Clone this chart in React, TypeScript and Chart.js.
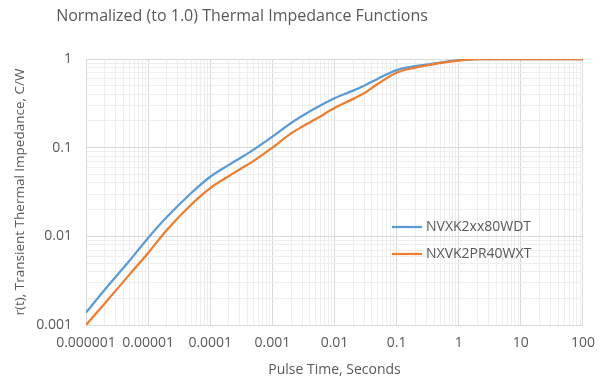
import React, { useEffect, useRef } from 'react';
import { Chart, registerables } from 'chart.js';

Chart.register(...registerables);

// Pulse duration (seconds) sampled for both devices
const PULSE_TIME = [
  1e-6, 2e-6, 5e-6, 1e-5, 2e-5, 5e-5, 1e-4, 2e-4, 3e-4, 5e-4,
  1e-3, 2e-3, 3e-3, 5e-3, 1e-2, 2e-2, 3e-2, 5e-2, 0.1, 0.2,
  0.3, 0.5, 1, 2, 3, 5, 10, 100,
];

// Normalized transient thermal impedance r(t)
const NVXK2XX80WDT = [
  0.00138, 0.0025, 0.0053, 0.0096, 0.0165, 0.031, 0.047, 0.064, 0.076, 0.095,
  0.133, 0.19, 0.228, 0.28, 0.36, 0.44, 0.5, 0.6, 0.75, 0.83,
  0.865, 0.91, 0.97, 0.995, 1, 1, 1, 1,
];
const NXVK2PR40WXT = [
  0.001, 0.00175, 0.0037, 0.0065, 0.0118, 0.023, 0.035, 0.048, 0.057, 0.071,
  0.1, 0.145, 0.172, 0.21, 0.28, 0.355, 0.41, 0.525, 0.7, 0.8,
  0.845, 0.9, 0.96, 0.995, 1, 1, 1, 1,
];

const SERIES_NAMES = ['NVXK2xx80WDT', 'NXVK2PR40WXT'];
const SERIES_COLORS = ['#5B9BD5', '#ED7D31'];

const X_TICK_VALUES = [1e-6, 1e-5, 1e-4, 1e-3, 1e-2, 1e-1, 1, 10, 100];
const X_TICK_LABELS = ['0.000001', '0.00001', '0.0001', '0.001', '0.01', '0.1', '1', '10', '100'];
const Y_TICK_VALUES = [0.001, 0.01, 0.1, 1];
const Y_TICK_LABELS = ['0.001', '0.01', '0.1', '1'];

const CHART_TITLE = 'Normalized (to 1.0) Thermal Impedance Functions';
const X_TITLE = 'Pulse Time, Seconds';
const Y_TITLE = 'r(t), Transient Thermal Impedance, C/W';

const FONT = '"Open Sans", sans-serif';
const TEXT_COLOR = '#595959';

// Major ticks at each decade plus minor ticks at 2..9 times the decade
function decadeTicks(majors: number[]) {
  const ticks: { value: number; major: boolean }[] = [];
  majors.forEach((v, i) => {
    ticks.push({ value: v, major: true });
    if (i < majors.length - 1) {
      for (let m = 2; m <= 9; m++) ticks.push({ value: v * m, major: false });
    }
  });
  return ticks;
}

function labelFor(values: number[], labels: string[], value: number) {
  const i = values.findIndex((v) => Math.abs(v - value) / v < 1e-9);
  return i >= 0 ? labels[i] : '';
}

const titlePlugin = {
  id: 'chartTitle',
  afterDraw(chart: any) {
    const { ctx } = chart;
    ctx.save();
    ctx.font = `16px ${FONT}`;
    ctx.fillStyle = TEXT_COLOR;
    ctx.textAlign = 'center';
    ctx.textBaseline = 'alphabetic';
    ctx.fillText(CHART_TITLE, 242, 21);
    ctx.restore();
  },
};

const legendPlugin = {
  id: 'insideLegend',
  afterDraw(chart: any) {
    const { ctx } = chart;
    ctx.save();
    chart.data.datasets.forEach((ds: any, i: number) => {
      const y = 227 + i * 27;
      ctx.strokeStyle = ds.borderColor;
      ctx.lineWidth = 2.25;
      ctx.beginPath();
      ctx.moveTo(392, y);
      ctx.lineTo(422, y);
      ctx.stroke();
      ctx.font = `14px ${FONT}`;
      ctx.fillStyle = TEXT_COLOR;
      ctx.textAlign = 'left';
      ctx.textBaseline = 'middle';
      ctx.fillText(ds.label, 426, y);
    });
    ctx.restore();
  },
};

export default function App() {
  const canvasRef = useRef<HTMLCanvasElement | null>(null);

  useEffect(() => {
    if (!canvasRef.current) return;
    const series = [NVXK2XX80WDT, NXVK2PR40WXT];
    const gridColor = (c: any) => (c.tick && c.tick.major ? '#d9d9d9' : '#eeeeee');

    const chart = new Chart(canvasRef.current, {
      type: 'line',
      data: {
        datasets: series.map((vals, s) => ({
          label: SERIES_NAMES[s],
          data: PULSE_TIME.map((t, i) => ({ x: t, y: vals[i] })),
          borderColor: SERIES_COLORS[s],
          backgroundColor: SERIES_COLORS[s],
          borderWidth: 2.25,
          pointRadius: 0,
          cubicInterpolationMode: 'monotone' as const,
          fill: false,
          order: s === 0 ? 1 : 0,
        })),
      },
      options: {
        responsive: false,
        animation: false,
        devicePixelRatio: 1,
        layout: { padding: { top: 59, right: 13, left: 0, bottom: 0 } },
        plugins: {
          legend: { display: false },
          title: { display: false },
          tooltip: { enabled: false },
        },
        scales: {
          x: {
            type: 'logarithmic',
            min: 1e-6,
            max: 100,
            afterBuildTicks: (scale: any) => {
              scale.ticks = decadeTicks(X_TICK_VALUES);
            },
            afterFit: (scale: any) => {
              scale.height = 56;
            },
            grid: { color: gridColor, drawTicks: false, lineWidth: 1 },
            border: { color: '#d9d9d9' },
            ticks: {
              autoSkip: false,
              maxRotation: 0,
              padding: 10,
              color: TEXT_COLOR,
              font: { family: FONT, size: 14 },
              callback: (value: any) => labelFor(X_TICK_VALUES, X_TICK_LABELS, Number(value)),
            },
            title: {
              display: true,
              text: X_TITLE,
              color: TEXT_COLOR,
              font: { family: FONT, size: 14 },
              padding: { top: 0, bottom: 3 },
            },
          },
          y: {
            type: 'logarithmic',
            min: 0.001,
            max: 1,
            afterBuildTicks: (scale: any) => {
              scale.ticks = decadeTicks(Y_TICK_VALUES);
            },
            afterFit: (scale: any) => {
              scale.width = 86;
            },
            grid: { color: gridColor, drawTicks: false, lineWidth: 1 },
            border: { color: '#d9d9d9' },
            ticks: {
              autoSkip: false,
              padding: 14,
              color: TEXT_COLOR,
              font: { family: FONT, size: 14 },
              callback: (value: any) => labelFor(Y_TICK_VALUES, Y_TICK_LABELS, Number(value)),
            },
            title: {
              display: true,
              text: Y_TITLE,
              color: TEXT_COLOR,
              font: { family: FONT, size: 13.5 },
              padding: { top: 12, bottom: 0 },
            },
          },
        },
      },
      plugins: [titlePlugin, legendPlugin],
    } as any);

    return () => chart.destroy();
  }, []);

  return (
    <div style={{ position: 'fixed', left: 0, top: 0, width: 605, height: 381, background: '#ffffff' }}>
      <canvas ref={canvasRef} width={605} height={381} />
    </div>
  );
}
